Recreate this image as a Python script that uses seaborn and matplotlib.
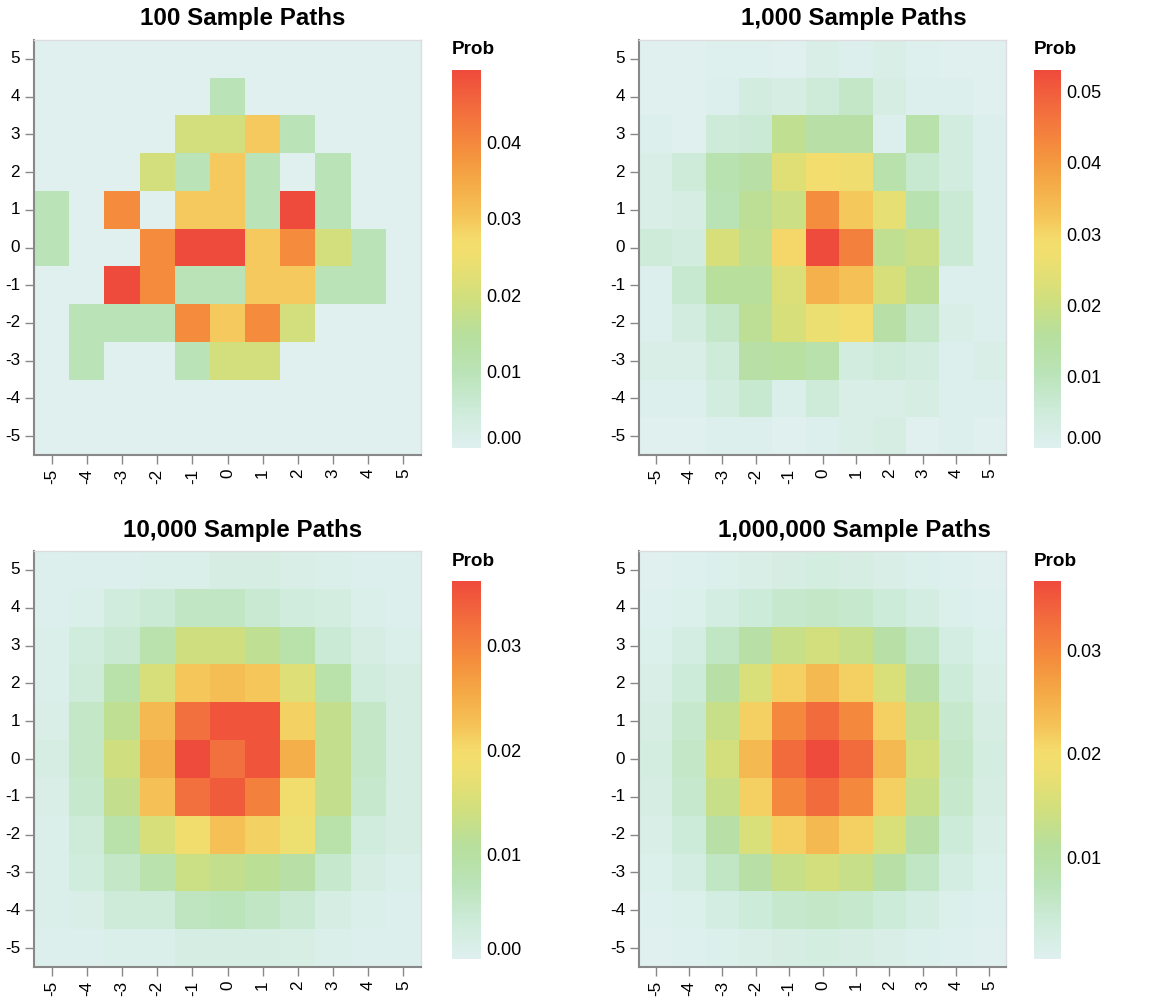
import numpy as np
import pandas as pd
import matplotlib
matplotlib.use("Agg")
import matplotlib.pyplot as plt
import seaborn as sns
from matplotlib.colors import LinearSegmentedColormap
from matplotlib.ticker import FormatStrFormatter

sns.set_style("white")
plt.rcParams['font.family'] = ['Liberation Sans', 'DejaVu Sans']
plt.rcParams['text.color'] = '#000000'

# ---------------- data ----------------
x_labels = ["-5", "-4", "-3", "-2", "-1", "0", "1", "2", "3", "4", "5"]
y_labels = ["5", "4", "3", "2", "1", "0", "-1", "-2", "-3", "-4", "-5"]

titles = ["100 Sample Paths", "1,000 Sample Paths",
          "10,000 Sample Paths", "1,000,000 Sample Paths"]

prob_100 = [
    [0, 0, 0, 0, 0, 0, 0, 0, 0, 0, 0],
    [0, 0, 0, 0, 0, 0.0099, 0, 0, 0, 0, 0],
    [0, 0, 0, 0, 0.0198, 0.0198, 0.0297, 0.0099, 0, 0, 0],
    [0, 0, 0, 0.0198, 0.0099, 0.0297, 0.0099, 0, 0.0099, 0, 0],
    [0.0099, 0, 0.0396, 0, 0.0297, 0.0297, 0.0099, 0.0495, 0.0099, 0, 0],
    [0.0099, 0, 0, 0.0396, 0.0495, 0.0495, 0.0297, 0.0396, 0.0198, 0.0099, 0],
    [0, 0, 0.0495, 0.0396, 0.0099, 0.0099, 0.0297, 0.0297, 0.0099, 0.0099, 0],
    [0, 0.0099, 0.0099, 0.0099, 0.0396, 0.0297, 0.0396, 0.0198, 0, 0, 0],
    [0, 0.0099, 0, 0, 0.0099, 0.0198, 0.0198, 0, 0, 0, 0],
    [0, 0, 0, 0, 0, 0, 0, 0, 0, 0, 0],
    [0, 0, 0, 0, 0, 0, 0, 0, 0, 0, 0],
]

prob_1000 = [
    [0, 0, 0.0005, 0.0005, 0, 0.002, 0.001, 0.002, 0.0005, 0, 0],
    [0, 0, 0.001, 0.004, 0.003, 0.005, 0.008, 0.003, 0.001, 0.001, 0],
    [0.001, 0, 0.005, 0.006, 0.018, 0.014, 0.014, 0.001, 0.013, 0.004, 0.001],
    [0.002, 0.005, 0.012, 0.014, 0.024, 0.028, 0.027, 0.013, 0.007, 0.004, 0.001],
    [0.002, 0.003, 0.011, 0.017, 0.020, 0.042, 0.032, 0.025, 0.012, 0.006, 0.001],
    [0.005, 0.004, 0.022, 0.018, 0.030, 0.053, 0.044, 0.018, 0.020, 0.006, 0.001],
    [0.001, 0.007, 0.016, 0.016, 0.023, 0.036, 0.033, 0.022, 0.017, 0.001, 0.001],
    [0.001, 0.004, 0.008, 0.017, 0.022, 0.026, 0.028, 0.014, 0.008, 0.002, 0.001],
    [0.002, 0.002, 0.005, 0.014, 0.015, 0.013, 0.004, 0.005, 0.004, 0.001, 0.002],
    [0.001, 0.001, 0.004, 0.007, 0.0015, 0.005, 0.002, 0.002, 0.003, 0.001, 0.001],
    [0, 0, 0.001, 0.001, 0, 0.001, 0.002, 0.003, 0, 0.001, 0],
]

prob_10000 = [
    [0.0005, 0.0006, 0.0006, 0.0010, 0.0010, 0.0020, 0.0020, 0.0015, 0.0010, 0.0005, 0.0005],
    [0.0005, 0.0010, 0.0030, 0.0040, 0.0060, 0.0060, 0.0045, 0.0030, 0.0025, 0.0010, 0.0005],
    [0.0010, 0.0030, 0.0045, 0.0085, 0.0140, 0.0140, 0.0120, 0.0090, 0.0040, 0.0020, 0.0010],
    [0.0010, 0.0035, 0.0090, 0.0150, 0.0220, 0.0230, 0.0220, 0.0160, 0.0090, 0.0030, 0.0020],
    [0.0015, 0.0055, 0.0120, 0.0235, 0.0320, 0.0350, 0.0350, 0.0210, 0.0125, 0.0055, 0.0020],
    [0.0020, 0.0055, 0.0140, 0.0250, 0.0362, 0.0320, 0.0350, 0.0250, 0.0125, 0.0055, 0.0020],
    [0.0015, 0.0050, 0.0125, 0.0225, 0.0320, 0.0345, 0.0300, 0.0190, 0.0125, 0.0050, 0.0020],
    [0.0010, 0.0035, 0.0090, 0.0150, 0.0190, 0.0225, 0.0210, 0.0180, 0.0090, 0.0030, 0.0020],
    [0.0010, 0.0030, 0.0055, 0.0085, 0.0135, 0.0125, 0.0115, 0.0095, 0.0050, 0.0020, 0.0010],
    [0.0010, 0.0015, 0.0035, 0.0035, 0.0065, 0.0070, 0.0060, 0.0045, 0.0020, 0.0010, 0.0005],
    [0.0005, 0.0005, 0.0010, 0.0010, 0.0020, 0.0020, 0.0020, 0.0018, 0.0010, 0.0005, 0.0005],
]

prob_1000000 = [
    [0.0002, 0.0004, 0.0010, 0.0016, 0.0022, 0.0025, 0.0022, 0.0016, 0.0010, 0.0004, 0.0002],
    [0.0004, 0.0010, 0.0024, 0.0039, 0.0053, 0.0059, 0.0053, 0.0039, 0.0024, 0.0010, 0.0004],
    [0.0010, 0.0024, 0.0061, 0.0098, 0.0134, 0.0149, 0.0134, 0.0098, 0.0061, 0.0024, 0.0010],
    [0.0016, 0.0039, 0.0098, 0.0156, 0.0215, 0.0240, 0.0215, 0.0156, 0.0098, 0.0039, 0.0016],
    [0.0022, 0.0053, 0.0134, 0.0215, 0.0296, 0.0330, 0.0296, 0.0215, 0.0134, 0.0053, 0.0022],
    [0.0025, 0.0059, 0.0149, 0.0240, 0.0330, 0.0367, 0.0330, 0.0240, 0.0149, 0.0059, 0.0025],
    [0.0022, 0.0053, 0.0134, 0.0215, 0.0296, 0.0330, 0.0296, 0.0215, 0.0134, 0.0053, 0.0022],
    [0.0016, 0.0039, 0.0098, 0.0156, 0.0215, 0.0240, 0.0215, 0.0156, 0.0098, 0.0039, 0.0016],
    [0.0010, 0.0024, 0.0061, 0.0098, 0.0134, 0.0149, 0.0134, 0.0098, 0.0061, 0.0024, 0.0010],
    [0.0004, 0.0010, 0.0024, 0.0039, 0.0053, 0.0059, 0.0053, 0.0039, 0.0024, 0.0010, 0.0004],
    [0.0002, 0.0004, 0.0010, 0.0016, 0.0022, 0.0025, 0.0022, 0.0016, 0.0010, 0.0004, 0.0002],
]

panels = [prob_100, prob_1000, prob_10000, prob_1000000]
color_ranges = [(0.0, 0.0495), (0.0, 0.053), (0.0, 0.0362), (0.0002, 0.0367)]
legend_ticks = [[0.0, 0.01, 0.02, 0.03, 0.04],
                [0.0, 0.01, 0.02, 0.03, 0.04, 0.05],
                [0.0, 0.01, 0.02, 0.03],
                [0.01, 0.02, 0.03]]

# ---------------- style ----------------
cmap = LinearSegmentedColormap.from_list("prob", [
    (0.00, "#dff0ef"),
    (0.10, "#cdebd9"),
    (0.20, "#bae3b7"),
    (0.30, "#b7df9c"),
    (0.40, "#d2df7c"),
    (0.50, "#eedf70"),
    (0.55, "#f4dc6c"),
    (0.62, "#f5c257"),
    (0.72, "#f4a544"),
    (0.80, "#f48b3d"),
    (0.90, "#f26c3d"),
    (1.00, "#ef4b3c"),
])

W, H = 1173, 999
fig = plt.figure(figsize=(W / 100, H / 100), dpi=100)


def rect(l, t, r, b):
    return [l / W, 1 - b / H, (r - l) / W, (b - t) / H]


# (axes box), (legend box), legend-title y, panel-title (x, y)  (pixels from top-left)
layouts = [
    ((34, 40, 421, 455), (452, 70, 481, 448), 50, (243, 19)),
    ((639, 40, 1006, 455), (1034, 70, 1061, 448), 50, (854, 19)),
    ((34, 551, 421, 967), (452, 581, 481, 959), 561, (243, 530)),
    ((639, 551, 1006, 967), (1034, 581, 1061, 959), 561, (854, 530)),
]

for data, title, (vmin, vmax), ticks, (axr, cbr, prob_y, (tx, ty)) in zip(
        panels, titles, color_ranges, legend_ticks, layouts):
    ax = fig.add_axes(rect(*axr))
    cax = fig.add_axes(rect(*cbr))
    df = pd.DataFrame(data, index=y_labels, columns=x_labels)
    sns.heatmap(df, ax=ax, cbar_ax=cax, cmap=cmap, vmin=vmin, vmax=vmax,
                linewidths=0, square=False)
    ax.set_xlabel("")
    ax.set_ylabel("")
    ax.tick_params(axis="both", which="major", length=6.5, width=1,
                   color="#888888", labelsize=12.3, pad=3.5,
                   left=True, bottom=True, labelcolor="#000000")
    ax.set_xticklabels(x_labels, rotation=90, va="top", ha="center")
    ax.set_yticklabels(y_labels, rotation=0)
    for s in ["left", "bottom"]:
        ax.spines[s].set_visible(True)
        ax.spines[s].set_color("#888888")
        ax.spines[s].set_linewidth(1.5)
    for s in ["top", "right"]:
        ax.spines[s].set_visible(True)
        ax.spines[s].set_color("#dddddd")
        ax.spines[s].set_linewidth(1)

    cbar = ax.collections[0].colorbar
    cbar.outline.set_visible(False)
    cbar.set_ticks(ticks)
    cbar.ax.yaxis.set_major_formatter(FormatStrFormatter("%.2f"))
    cbar.ax.tick_params(length=0, labelsize=13, pad=4, labelcolor="#000000")
    labels = cbar.ax.get_yticklabels()
    if ticks[0] == 0.0 and labels:
        labels[0].set_va("bottom")

    fig.text(tx / W, 1 - ty / H, title, ha="center", va="center",
             fontsize=17.4, fontweight="bold", color="#000000")
    fig.text(cbr[0] / W, 1 - prob_y / H, "Prob", ha="left", va="center",
             fontsize=13.6, fontweight="bold", color="#000000")

fig.savefig("out.png", dpi=100)
